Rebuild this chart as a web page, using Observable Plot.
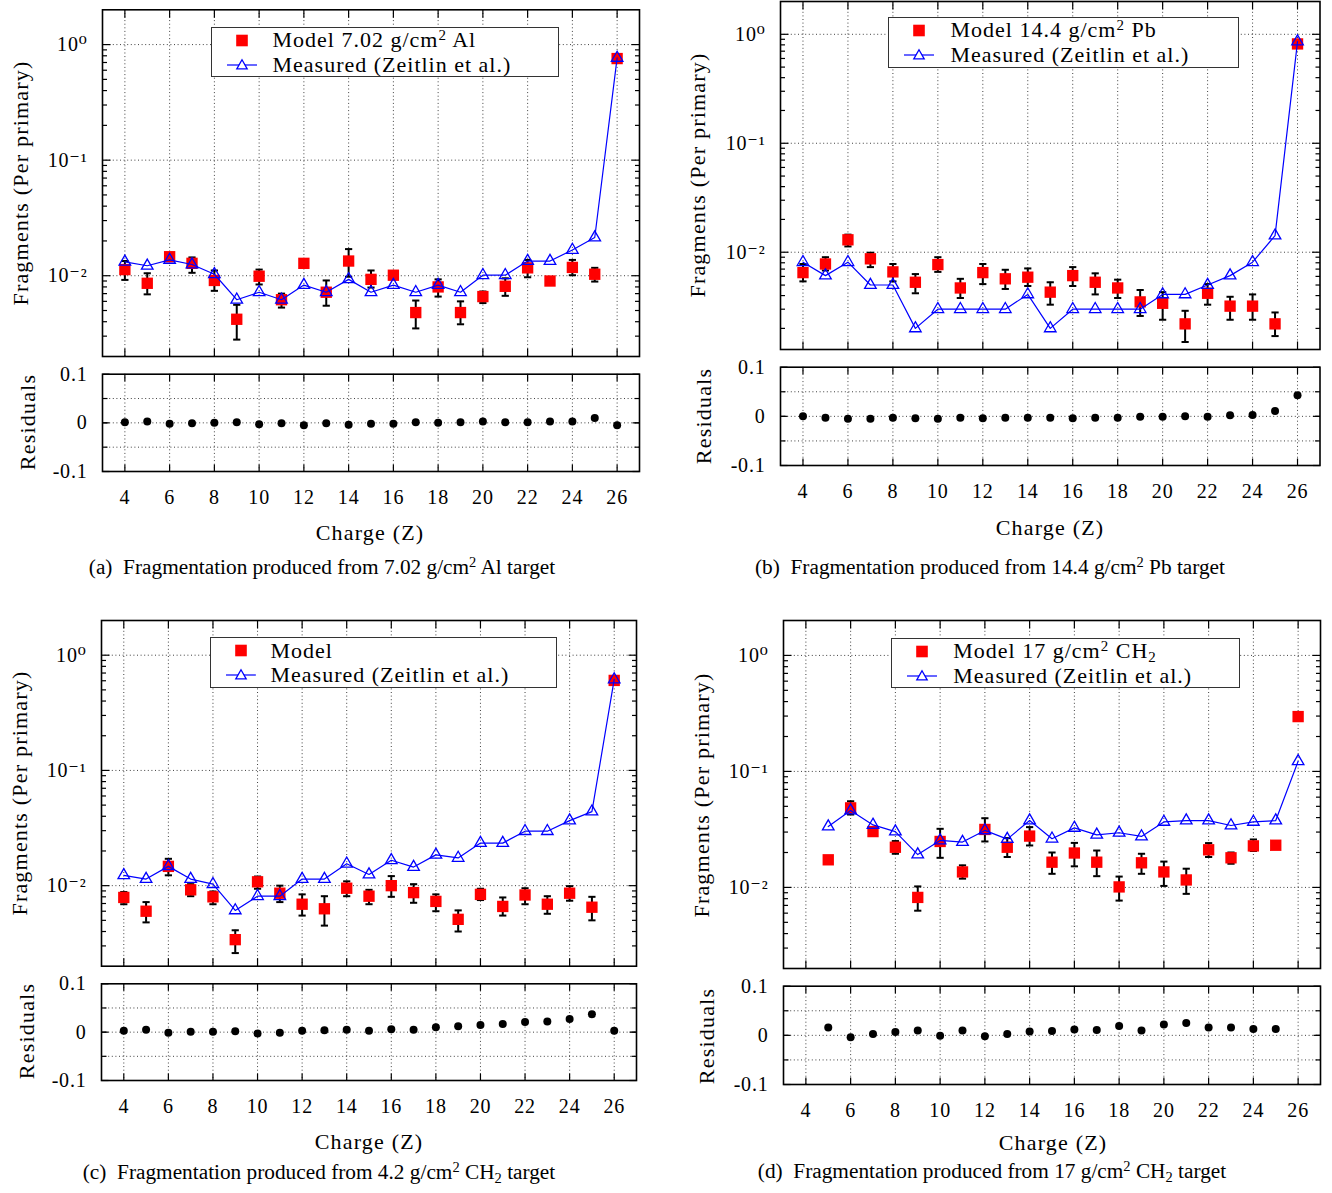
<!DOCTYPE html>
<html>
<head>
<meta charset="utf-8">
<script src="https://cdn.jsdelivr.net/npm/d3@7"></script>
<script src="https://cdn.jsdelivr.net/npm/@observablehq/plot@0.6"></script>
<style>
  body { margin: 0; background: #fff; }
  #root { position: relative; width: 1332px; height: 1193px; overflow: hidden;
          font-family: "Liberation Serif", "DejaVu Serif", serif; color: #000; background: #fff; }
  .chart { position: absolute; }
  .chart svg { overflow: visible; }
  .lbl { position: absolute; transform: translate(-50%, -50%); white-space: nowrap;
         font-size: 22px; letter-spacing: 1.2px; line-height: 1; }
  .vlbl { position: absolute; transform: translate(-50%, -50%) rotate(-90deg); white-space: nowrap;
          font-size: 22px; letter-spacing: 1.2px; line-height: 1; }
  .cap { position: absolute; transform: translate(-50%, -50%); white-space: nowrap;
         font-size: 21.3px; line-height: 1; }
  .legend { position: absolute; background: #fff; border: 1.3px solid #333; box-sizing: border-box; }
  .legend svg { position: absolute; left: 0; top: 0; }
  .lt { position: absolute; transform: translateY(-50%); white-space: nowrap;
        font-size: 22px; letter-spacing: 1px; line-height: 1; }
  sup { font-size: 0.68em; vertical-align: 0.5em; line-height: 0; }
  sub { font-size: 0.68em; vertical-align: -0.25em; line-height: 0; }
</style>
</head>
<body>
<div id="root"></div>
<script>
// ---------------- DATA ----------------
const xTicks = [4, 6, 8, 10, 12, 14, 16, 18, 20, 22, 24, 26];
const yMajorTicks = [1, 0.1, 0.01];
const yMajorLabels = ["10\u2070", "10\u207B\u00B9", "10\u207B\u00B2"];
const resTicks = [0.1, 0, -0.1];
const resTickLabels = ["0.1", "0", "-0.1"];
const resGrid = [0.05, 0, -0.05];

// (a) 7.02 g/cm2 Al
const chargeA = [4,5,6,7,8,9,10,11,12,13,14,15,16,17,18,19,20,21,22,23,24,25,26];
const modelA   = [0.0113,0.0086,0.0146,0.0128,0.0091,0.0042,0.0099,0.0062,0.0128,0.0072,0.0134,0.0093,0.0101,0.0048,0.0080,0.0048,0.0066,0.0081,0.0117,0.0090,0.0118,0.0103,0.757];
const modelLoA = [0.0092,0.0069,0.0140,0.0106,0.0074,0.0028,0.0084,0.0053,0.0124,0.0055,0.0098,0.0079,0.0097,0.0035,0.0066,0.0038,0.0058,0.0067,0.0097,0.0086,0.0101,0.0089,0.745];
const modelHiA = [0.0134,0.0105,0.0152,0.0144,0.0111,0.0056,0.0113,0.0070,0.0132,0.0091,0.0170,0.0111,0.0105,0.0061,0.0093,0.0060,0.0073,0.0095,0.0137,0.0094,0.0137,0.0117,0.770];
const measuredA = [0.0132,0.0122,0.0137,0.0125,0.0103,0.0062,0.0072,0.0062,0.0083,0.0072,0.0093,0.0072,0.0083,0.0072,0.0083,0.0072,0.0101,0.0101,0.0134,0.0134,0.0167,0.0214,0.767];
const residualA = [0.001,0.003,-0.002,-0.001,0,0.001,-0.003,-0.001,-0.005,-0.001,-0.004,-0.002,-0.002,0.001,0,0.001,0.003,0.001,0.001,0.003,0.003,0.010,-0.005];

// (b) 14.4 g/cm2 Pb
const chargeB = [4,5,6,7,8,9,10,11,12,13,14,15,16,17,18,19,20,21,22,23,24,25,26];
const modelB   = [0.0065,0.0078,0.0130,0.0087,0.0066,0.0053,0.0077,0.0047,0.0065,0.0057,0.0059,0.0043,0.0061,0.0053,0.0047,0.0035,0.0034,0.0022,0.0042,0.0032,0.0032,0.0022,0.816];
const modelLoB = [0.0054,0.0068,0.0113,0.0073,0.0054,0.0042,0.0066,0.0038,0.0051,0.0046,0.0049,0.0033,0.0049,0.0041,0.0038,0.0026,0.0024,0.0015,0.0033,0.0024,0.0024,0.0017,0.80];
const modelHiB = [0.0078,0.0090,0.0145,0.0099,0.0078,0.0063,0.0090,0.0057,0.0078,0.0069,0.0071,0.0053,0.0073,0.0064,0.0056,0.0045,0.0043,0.0029,0.0051,0.0039,0.0041,0.0028,0.83];
const measuredB = [0.0081,0.0061,0.0081,0.0050,0.0050,0.0020,0.0030,0.0030,0.0030,0.0030,0.0041,0.0020,0.0030,0.0030,0.0030,0.0030,0.0041,0.0041,0.0050,0.0061,0.0081,0.0142,0.857];
const residualB = [0,-0.003,-0.005,-0.005,-0.003,-0.004,-0.005,-0.003,-0.004,-0.003,-0.003,-0.003,-0.004,-0.003,-0.003,-0.001,-0.001,0,-0.001,0.002,0.003,0.011,0.043];

// (c) 4.2 g/cm2 CH2
const chargeC = [4,5,6,7,8,9,10,11,12,13,14,15,16,17,18,19,20,21,22,23,24,25,26];
const modelC   = [0.0079,0.0060,0.0147,0.0092,0.0080,0.0034,0.0108,0.0086,0.0069,0.0063,0.0095,0.0081,0.0100,0.0087,0.0073,0.0051,0.0084,0.0066,0.0083,0.0069,0.0086,0.0065,0.604];
const modelLoC = [0.0069,0.0048,0.0123,0.0081,0.0069,0.0026,0.0094,0.0072,0.0055,0.0045,0.0081,0.0069,0.0080,0.0071,0.0060,0.0040,0.0075,0.0055,0.0069,0.0057,0.0074,0.0050,0.59];
const modelHiC = [0.0088,0.0072,0.0171,0.0103,0.0089,0.0041,0.0120,0.0100,0.0084,0.0081,0.0109,0.0092,0.0121,0.0103,0.0084,0.0061,0.0094,0.0079,0.0095,0.0081,0.0099,0.0080,0.62];
const measuredC = [0.0123,0.0114,0.0147,0.0114,0.0103,0.0061,0.0081,0.0081,0.0114,0.0114,0.0155,0.0125,0.0166,0.0145,0.0185,0.0174,0.0234,0.0234,0.0297,0.0297,0.0367,0.0439,0.616];
const residualC = [0.003,0.005,-0.001,0.001,0.001,0.002,-0.003,-0.001,0.003,0.004,0.005,0.003,0.006,0.005,0.010,0.012,0.015,0.017,0.021,0.022,0.027,0.037,0.003];

// (d) 17 g/cm2 CH2
const chargeD = [5,6,7,8,9,10,11,12,13,14,15,16,17,18,19,20,21,22,23,24,25,26];
const modelD   = [0.0173,0.0485,0.0303,0.0222,0.0082,0.0249,0.0136,0.0316,0.0222,0.0277,0.0165,0.0198,0.0165,0.0101,0.0163,0.0136,0.0116,0.0211,0.0180,0.0228,0.0231,0.297];
const modelLoD = [0.0166,0.0425,0.0280,0.0195,0.0063,0.0180,0.0119,0.0249,0.0183,0.0230,0.0131,0.0152,0.0125,0.0077,0.0131,0.0103,0.0088,0.0183,0.0160,0.0206,0.0223,0.29];
const modelHiD = [0.0180,0.0553,0.0320,0.0251,0.0102,0.0320,0.0155,0.0395,0.0266,0.0331,0.0200,0.0242,0.0208,0.0124,0.0195,0.0167,0.0145,0.0241,0.0200,0.0259,0.0240,0.305];
const measuredD = [0.0335,0.0460,0.0346,0.0303,0.0192,0.0254,0.0246,0.0310,0.0261,0.0377,0.0263,0.0326,0.0284,0.0296,0.0275,0.0367,0.0377,0.0377,0.0342,0.0367,0.0377,0.1223];
const residualChargeD = [5,6,7,8,9,10,11,12,13,14,15,16,17,18,19,20,21,22,23,24,25];
const residualD = [0.016,-0.004,0.003,0.007,0.010,-0.001,0.010,-0.002,0.003,0.008,0.009,0.012,0.011,0.019,0.010,0.022,0.025,0.016,0.016,0.013,0.013];

const legendModelA = 'Model 7.02 g/cm<sup>2</sup> Al';
const legendModelB = 'Model 14.4 g/cm<sup>2</sup> Pb';
const legendModelC = 'Model';
const legendModelD = 'Model 17 g/cm<sup>2</sup> CH<sub>2</sub>';
const legendMeasured = 'Measured (Zeitlin et al.)';
const captionA = '(a)&nbsp; Fragmentation produced from 7.02 g/cm<sup>2</sup> Al target';
const captionB = '(b)&nbsp; Fragmentation produced from 14.4 g/cm<sup>2</sup> Pb target';
const captionC = '(c)&nbsp; Fragmentation produced from 4.2 g/cm<sup>2</sup> CH<sub>2</sub> target';
const captionD = '(d)&nbsp; Fragmentation produced from 17 g/cm<sup>2</sup> CH<sub>2</sub> target';
const yTitle = "Fragments (Per primary)";
const resTitle = "Residuals";
const xTitle = "Charge (Z)";

// ---------------- DRAWING ----------------
const root = document.getElementById("root");
const FONT = '"Liberation Serif", "DejaVu Serif", serif';

const sym = (x1, y1, x2, y2) => ({draw(c) { c.moveTo(x1, y1); c.lineTo(x2, y2); }});
const tickRightward = len => sym(0, 0, len, 0);
const tickLeftward = len => sym(0, 0, -len, 0);
const tickUpward = len => sym(0, 0, 0, -len);
const tickDownward = len => sym(0, 0, 0, len);
const capSym = sym(-3.6, 0, 3.6, 0);

const gridStyle = {stroke: "#000", strokeOpacity: 0.75, strokeWidth: 1, strokeDasharray: "1,2.6"};
const tickStyle = {fill: "none", stroke: "#000", strokeWidth: 1.2};

function place(node, left, top) {
  const d = document.createElement("div");
  d.className = "chart";
  d.style.left = left + "px";
  d.style.top = top + "px";
  d.appendChild(node);
  root.appendChild(d);
}

function frameTicks(xs, yMajor, yMinor, majorLen, minorLen) {
  return [
    Plot.dot(xs, {x: d => d, frameAnchor: "bottom", symbol: tickUpward(majorLen), ...tickStyle}),
    Plot.dot(xs, {x: d => d, frameAnchor: "top", symbol: tickDownward(majorLen), ...tickStyle}),
    Plot.dot(yMajor, {y: d => d, frameAnchor: "left", symbol: tickRightward(majorLen), ...tickStyle}),
    Plot.dot(yMajor, {y: d => d, frameAnchor: "right", symbol: tickLeftward(majorLen), ...tickStyle}),
    Plot.dot(yMinor, {y: d => d, frameAnchor: "left", symbol: tickRightward(minorLen), ...tickStyle}),
    Plot.dot(yMinor, {y: d => d, frameAnchor: "right", symbol: tickLeftward(minorLen), ...tickStyle})
  ];
}

function mainPlot(p) {
  const modelData = p.charge.map((z, i) => ({z, v: p.model[i], lo: p.lo[i], hi: p.hi[i]}));
  const measData = p.measCharge.map((z, i) => ({z, v: p.measured[i]}));
  const [y0, y1] = p.yDomain;
  const minors = [];
  for (let e = -4; e <= 0; e++) for (let m = 2; m <= 9; m++) {
    const v = m * Math.pow(10, e);
    if (v > y0 && v < y1) minors.push(v);
  }
  const chart = Plot.plot({
    width: p.w, height: p.h,
    marginLeft: p.mL, marginRight: p.mR, marginTop: p.mT, marginBottom: p.mB,
    style: {fontFamily: FONT, fontSize: "20px", letterSpacing: "0.8px", background: "transparent", color: "#000"},
    x: {domain: [3, 27], axis: null},
    y: {type: "log", domain: p.yDomain, axis: null},
    marks: [
      Plot.gridX({ticks: xTicks, ...gridStyle}),
      Plot.gridY({ticks: yMajorTicks, ...gridStyle}),
      Plot.axisY({ticks: yMajorTicks, tickFormat: d => yMajorLabels[yMajorTicks.indexOf(d)],
                  tickSize: 0, tickPadding: 15, label: null, fill: "#000"}),
      Plot.ruleX(modelData, {x: "z", y1: "lo", y2: "hi", stroke: "#000", strokeWidth: 2}),
      Plot.dot(modelData, {x: "z", y: "lo", symbol: capSym, fill: "none", stroke: "#000", strokeWidth: 2}),
      Plot.dot(modelData, {x: "z", y: "hi", symbol: capSym, fill: "none", stroke: "#000", strokeWidth: 2}),
      Plot.dot(modelData, {x: "z", y: "v", symbol: "square", r: 6.4, fill: "#ff0000", stroke: "none"}),
      Plot.line(measData, {x: "z", y: "v", stroke: "#0000ff", strokeWidth: 1.2}),
      Plot.dot(measData, {x: "z", y: "v", symbol: "triangle", r: 4.3, fill: "none", stroke: "#0000ff", strokeWidth: 1.3}),
      ...frameTicks(xTicks, yMajorTicks, minors, 8, 4.5),
      Plot.frame({stroke: "#000", strokeWidth: 1.6})
    ]
  });
  place(chart, p.left, p.top);
}

function residualPlot(p) {
  const data = p.charge.map((z, i) => ({z, r: p.residual[i]}));
  const chart = Plot.plot({
    width: p.w, height: p.h,
    marginLeft: p.mL, marginRight: p.mR, marginTop: p.mT, marginBottom: p.mB,
    style: {fontFamily: FONT, fontSize: "20px", letterSpacing: "0.8px", background: "transparent", color: "#000"},
    x: {domain: [3, 27], axis: null},
    y: {domain: [-0.1, 0.1], axis: null},
    marks: [
      Plot.gridX({ticks: xTicks, ...gridStyle}),
      Plot.gridY({ticks: resGrid, ...gridStyle}),
      Plot.axisY({ticks: resTicks, tickFormat: d => resTickLabels[resTicks.indexOf(d)],
                  tickSize: 0, tickPadding: 15, label: null, fill: "#000"}),
      Plot.axisX({ticks: xTicks, tickFormat: d => String(d), tickSize: 0, tickPadding: 18,
                  label: null, fill: "#000"}),
      Plot.dot(data, {x: "z", y: "r", r: 4, fill: "#000", stroke: "none"}),
      ...frameTicks(xTicks, resTicks, resGrid, 7, 5),
      Plot.frame({stroke: "#000", strokeWidth: 1.6})
    ]
  });
  place(chart, p.left, p.top);
}

function addText(cls, html, x, y) {
  const d = document.createElement("div");
  d.className = cls;
  d.innerHTML = html;
  d.style.left = x + "px";
  d.style.top = y + "px";
  root.appendChild(d);
}

function addLegend(modelLabel, box) {
  const d = document.createElement("div");
  d.className = "legend";
  d.style.left = box.x + "px";
  d.style.top = box.y + "px";
  d.style.width = box.w + "px";
  d.style.height = box.h + "px";
  const r1 = 12.5, r2 = 37, sx = 30;
  const t = 5.2;
  d.innerHTML =
    `<svg width="${box.w}" height="${box.h}">
       <rect x="${sx - 5.8}" y="${r1 - 5.8}" width="11.6" height="11.6" fill="#ff0000"/>
       <line x1="${sx - 15}" y1="${r2}" x2="${sx + 15}" y2="${r2}" stroke="#0000ff" stroke-width="1.2"/>
       <polygon points="${sx},${r2 - t} ${sx + t},${r2 + t * 0.75} ${sx - t},${r2 + t * 0.75}" fill="#fff" stroke="#0000ff" stroke-width="1.3"/>
     </svg>
     <div class="lt" style="left:${box.tx}px;top:${r1}px">${modelLabel}</div>
     <div class="lt" style="left:${box.tx}px;top:${r2}px">${legendMeasured}</div>`;
  root.appendChild(d);
}

// Panel (a)
mainPlot({charge: chargeA, model: modelA, lo: modelLoA, hi: modelHiA, measCharge: chargeA, measured: measuredA,
  yDomain: [0.002, 2], left: 0, top: 0, w: 660, h: 362, mL: 102, mR: 21, mT: 9.3, mB: 6});
residualPlot({charge: chargeA, residual: residualA, left: 0, top: 364, w: 660, h: 150, mL: 102, mR: 21, mT: 9.7, mB: 43});
addLegend(legendModelA, {x: 210.5, y: 26.7, w: 348, h: 50.6, tx: 61});
addText("vlbl", yTitle, 20.5, 183);
addText("vlbl", resTitle, 27.5, 422);
addText("lbl", xTitle, 370, 533);
addText("cap", captionA, 322, 568);

// Panel (b)
mainPlot({charge: chargeB, model: modelB, lo: modelLoB, hi: modelHiB, measCharge: chargeB, measured: measuredB,
  yDomain: [0.00128, 2], left: 660, top: 0, w: 672, h: 355, mL: 120, mR: 12.5, mT: 1, mB: 6});
residualPlot({charge: chargeB, residual: residualB, left: 660, top: 357, w: 672, h: 150, mL: 120, mR: 12.5, mT: 9.7, mB: 42});
addLegend(legendModelB, {x: 888, y: 16.7, w: 351, h: 51, tx: 61.5});
addText("vlbl", yTitle, 697.5, 175);
addText("vlbl", resTitle, 704, 415.5);
addText("lbl", xTitle, 1050, 528);
addText("cap", captionB, 990, 568);

// Panel (c)
mainPlot({charge: chargeC, model: modelC, lo: modelLoC, hi: modelHiC, measCharge: chargeC, measured: measuredC,
  yDomain: [0.002, 2], left: 0, top: 610, w: 660, h: 372, mL: 101, mR: 24, mT: 10, mB: 16.3});
residualPlot({charge: chargeC, residual: residualC, left: 0, top: 975, w: 660, h: 150, mL: 101, mR: 24, mT: 8.3, mB: 45});
addLegend(legendModelC, {x: 209.5, y: 637.3, w: 347, h: 50.3, tx: 60});
addText("vlbl", yTitle, 20, 793);
addText("vlbl", resTitle, 27, 1031);
addText("lbl", xTitle, 369, 1142);
addText("cap", captionC, 319, 1173);

// Panel (d)
mainPlot({charge: chargeD, model: modelD, lo: modelLoD, hi: modelHiD, measCharge: chargeD, measured: measuredD,
  yDomain: [0.002, 2], left: 660, top: 610, w: 672, h: 362, mL: 123, mR: 12, mT: 10, mB: 4});
residualPlot({charge: residualChargeD, residual: residualD, left: 660, top: 975, w: 672, h: 150, mL: 123, mR: 12, mT: 10.7, mB: 41});
addLegend(legendModelD, {x: 891.3, y: 637.7, w: 349, h: 50.6, tx: 61});
addText("vlbl", yTitle, 702, 795);
addText("vlbl", resTitle, 707, 1035.5);
addText("lbl", xTitle, 1053, 1143);
addText("cap", captionD, 992, 1172);
</script>
</body>
</html>
